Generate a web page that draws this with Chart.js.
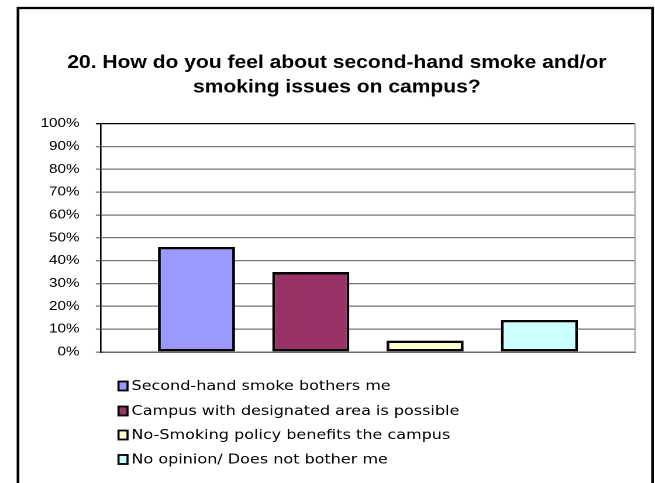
<!DOCTYPE html>
<html>
<head>
<meta charset="utf-8">
<script src="https://cdn.jsdelivr.net/npm/chart.js@4.4.0/dist/chart.umd.min.js"></script>
<style>
  html, body { margin: 0; padding: 0; background: #fff; overflow: hidden; }
  #wrap { position: relative; width: 655px; height: 483px; }
  #c { width: 655px !important; height: 483px !important; display: block; }
</style>
</head>
<body>
<div id="wrap"><canvas id="c"></canvas></div>
<script>
const titleLines = ['20. How do you feel about second-hand smoke and/or', 'smoking issues on campus?'];
const categories = [''];
const seriesLabels = [
  'Second-hand smoke bothers me',
  'Campus with designated area is possible',
  'No-Smoking policy benefits the campus',
  'No opinion/ Does not bother me'
];
const seriesValues = [46, 35, 5, 14];
const seriesColors = ['#9999FF', '#993366', '#FFFFCC', '#CCFFFF'];
const yTickValues = [0, 10, 20, 30, 40, 50, 60, 70, 80, 90, 100];

// The reference picture is stretched horizontally; the chart is drawn on a
// narrower logical canvas which the page widens to 655px.
const LOGICAL_W = 560;
const SX = 655 / LOGICAL_W;

const canvas = document.getElementById('c');
canvas.width = LOGICAL_W;
canvas.height = 483;

const datasets = seriesLabels.map((lab, i) => ({
  label: lab,
  data: [seriesValues[i]],
  backgroundColor: seriesColors[i],
  borderColor: '#000',
  borderWidth: 2.4,
  borderSkipped: false,
  barPercentage: 0.674,
  categoryPercentage: 0.856
}));

const framePlugin = {
  id: 'frame',
  afterLayout(chart) {
    const t = chart.titleBlock;
    if (t) { t.left += 6.2; t.right += 6.2; }
  },
  beforeDraw(chart) {
    const ctx = chart.ctx;
    ctx.save();
    ctx.fillStyle = '#fff';
    ctx.fillRect(0, 0, chart.width, chart.height);
    ctx.strokeStyle = '#000';
    ctx.lineWidth = 2.3;
    ctx.strokeRect(18 / SX, 8, 634.5 / SX, 500);
    ctx.restore();
  },
  afterDatasetsDraw(chart) {
    const a = chart.chartArea;
    const ctx = chart.ctx;
    ctx.save();
    ctx.strokeStyle = '#b0b0b0';
    ctx.lineWidth = 1.3;
    ctx.beginPath();
    ctx.moveTo(a.right, a.top);
    ctx.lineTo(a.right, a.bottom);
    ctx.stroke();
    ctx.restore();
  },
  afterDraw(chart) {
    const ctx = chart.ctx;
    ctx.save();
    const rows = [386, 411, 435, 459.5];
    ctx.font = '13.7px "DejaVu Sans"';
    ctx.textBaseline = 'middle';
    chart.data.datasets.forEach((ds, i) => {
      const y = rows[i];
      const x = 118.5 / SX, w = 9 / SX;
      ctx.fillStyle = ds.backgroundColor;
      ctx.fillRect(x, y - 4.5, w, 9);
      ctx.strokeStyle = '#000';
      ctx.lineWidth = 1.8;
      ctx.strokeRect(x, y - 4.5, w, 9);
      ctx.fillStyle = '#000';
      ctx.fillText(ds.label, 131.5 / SX, y + 0.5);
    });
    ctx.restore();
  }
};

new Chart(canvas, {
  type: 'bar',
  data: { labels: categories, datasets },
  options: {
    responsive: false,
    maintainAspectRatio: false,
    animation: false,
    devicePixelRatio: 2,
    layout: { padding: { left: 20.7, right: 17.1, top: 40, bottom: 131 } },
    plugins: {
      legend: { display: false },
      tooltip: { enabled: false },
      title: {
        display: true,
        text: titleLines,
        color: '#000',
        font: { family: '"Liberation Sans", Arial, sans-serif', size: 18, weight: 'bold', lineHeight: 1.35 },
        padding: { top: 11, bottom: 24 }
      }
    },
    scales: {
      x: {
        grid: { display: false, drawTicks: false },
        border: { display: true, color: '#6a6a6a', width: 1.5 },
        ticks: { display: false }
      },
      y: {
        min: 0,
        max: 100,
        afterBuildTicks(scale) { scale.ticks = yTickValues.map(v => ({ value: v })); },
        ticks: {
          color: '#000',
          padding: 14,
          font: { family: '"Liberation Sans", Arial, sans-serif', size: 13 },
          callback: v => v + '%'
        },
        grid: {
          color: ctx => (ctx.tick && ctx.tick.value === 100) ? '#000' : '#777777',
          lineWidth: 1.3,
          tickLength: 4.3,
          drawTicks: true
        },
        border: { display: true, color: '#000', width: 1.3 }
      }
    }
  },
  plugins: [framePlugin]
});
</script>
</body>
</html>
